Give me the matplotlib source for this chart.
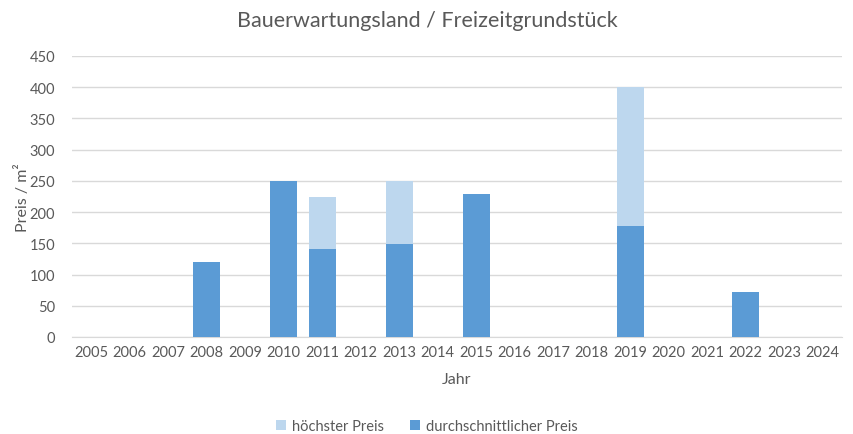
import numpy as np
import matplotlib.pyplot as plt

years = [str(y) for y in range(2005, 2025)]
hoechster = [0, 0, 0, 120, 0, 250, 224, 0, 250, 0, 229, 0, 0, 0, 400, 0, 0, 72, 0, 0]
durchschnitt = [0, 0, 0, 120, 0, 250, 141, 0, 149, 0, 229, 0, 0, 0, 178, 0, 0, 72, 0, 0]

plt.rcParams['font.family'] = ['Lato', 'DejaVu Sans']
grey = '#595959'

fig = plt.figure(figsize=(8.54, 4.35), dpi=100)
ax = fig.add_axes([0.0843, 0.223, 0.9017, 0.646])

x = np.arange(len(years))
ax.bar(x, hoechster, width=0.7, color='#BDD7EE', label='höchster Preis', zorder=2)
ax.bar(x, durchschnitt, width=0.7, color='#5B9BD5', label='durchschnittlicher Preis', zorder=3)

ax.set_xlim(-0.5, len(years) - 0.5)
ax.set_ylim(0, 450)
ax.set_yticks(range(0, 451, 50))
ax.set_xticks(x)
ax.set_xticklabels(years)
ax.tick_params(axis='both', length=0, colors=grey, labelsize=10.5)
ax.tick_params(axis='y', pad=12)
ax.tick_params(axis='x', pad=6)
ax.grid(axis='y', color='#D9D9D9', linewidth=1, zorder=0)
for s in ['top', 'right', 'left']:
    ax.spines[s].set_visible(False)
ax.spines['bottom'].set_color('#D9D9D9')

ax.set_xlabel('Jahr', color=grey, fontsize=11.5, labelpad=9)
ax.set_ylabel('Preis / m²', color=grey, fontsize=11.5, labelpad=0)
fig.suptitle('Bauerwartungsland / Freizeitgrundstück', color=grey, fontsize=15.5, y=0.975)

fig.legend(loc='lower center', bbox_to_anchor=(0.5, -0.028), ncol=2, frameon=False,
           fontsize=10.5, labelcolor=grey, handlelength=0.7, handleheight=0.7,
           columnspacing=1.8, handletextpad=0.4)

fig.savefig('out.png', dpi=100)
